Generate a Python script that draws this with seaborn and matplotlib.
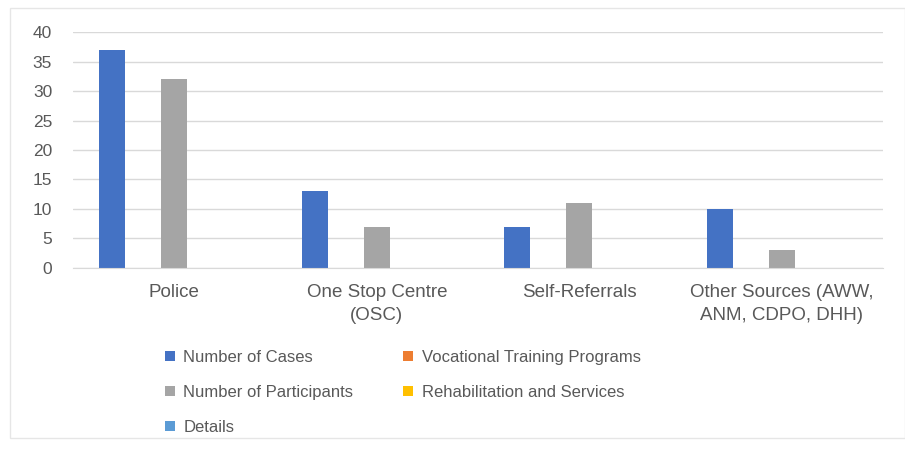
import pandas as pd
import seaborn as sns
import matplotlib.pyplot as plt
from matplotlib.patches import Rectangle

# data
categories = ['Police', 'One Stop Centre\n(OSC)', 'Self-Referrals', 'Other Sources (AWW,\nANM, CDPO, DHH)']
series = ['Number of Cases', 'Vocational Training Programs', 'Number of Participants',
          'Rehabilitation and Services', 'Details']
cases = [37, 13, 7, 10]
vocational = [0, 0, 0, 0]
participants = [32, 7, 11, 3]
rehab = [0, 0, 0, 0]
details = [0, 0, 0, 0]
colors = ['#4472C4', '#ED7D31', '#A5A5A5', '#FFC000', '#5B9BD5']

rows = []
for s, vals in zip(series, [cases, vocational, participants, rehab, details]):
    for c, v in zip(categories, vals):
        rows.append({'source': c, 'series': s, 'value': v})
df = pd.DataFrame(rows)

sns.set_style('white')
plt.rcParams['font.family'] = ['Liberation Sans', 'DejaVu Sans']

W, H = 905, 449
fig = plt.figure(figsize=(W / 100, H / 100), dpi=100)
fig.patch.set_facecolor('white')
fig.patches.append(Rectangle((10 / W, 1 - 438 / H), (W - 10) / W, 430 / H, transform=fig.transFigure,
                             fill=False, edgecolor='#E6E6E6', linewidth=1))

ax = fig.add_axes([73 / W, 1 - 267.7 / H, 810 / W, 235.4 / H])
sns.barplot(data=df, x='source', y='value', hue='series', order=categories, hue_order=series,
            palette=colors, width=0.765, gap=0.16, linewidth=0, saturation=1, ax=ax, errorbar=None)

ax.set_xlim(-0.5, 3.5)
ax.set_ylim(0, 40)
ax.set_yticks(range(0, 41, 5))
ax.yaxis.grid(True, color='#D9D9D9', linewidth=1)
ax.set_axisbelow(True)
for sp in ['top', 'right', 'left']:
    ax.spines[sp].set_visible(False)
ax.spines['bottom'].set_color('#D9D9D9')
ax.set_xlabel('')
ax.set_ylabel('')
ax.tick_params(axis='y', length=0, pad=15, labelsize=12.5, labelcolor='#595959')
ax.tick_params(axis='x', length=0, pad=12, labelsize=13.5, labelcolor='#595959')
for t in ax.get_yticklabels():
    t.set_horizontalalignment('right')
for t in ax.get_xticklabels():
    t.set_linespacing(1.45)

handles, labels = ax.get_legend_handles_labels()
ax.get_legend().remove()
idx = [0, 2, 4, 1, 3]
leg = fig.legend([handles[i] for i in idx], [labels[i] for i in idx], ncol=2,
                 loc='upper left', bbox_to_anchor=(150 / W, 1 - 335 / H), frameon=False,
                 fontsize=12, handlelength=0.6, handleheight=0.6, handletextpad=0.5,
                 columnspacing=3.0, labelspacing=1.2, labelcolor='#595959')

plt.savefig('out.png', dpi=100)
